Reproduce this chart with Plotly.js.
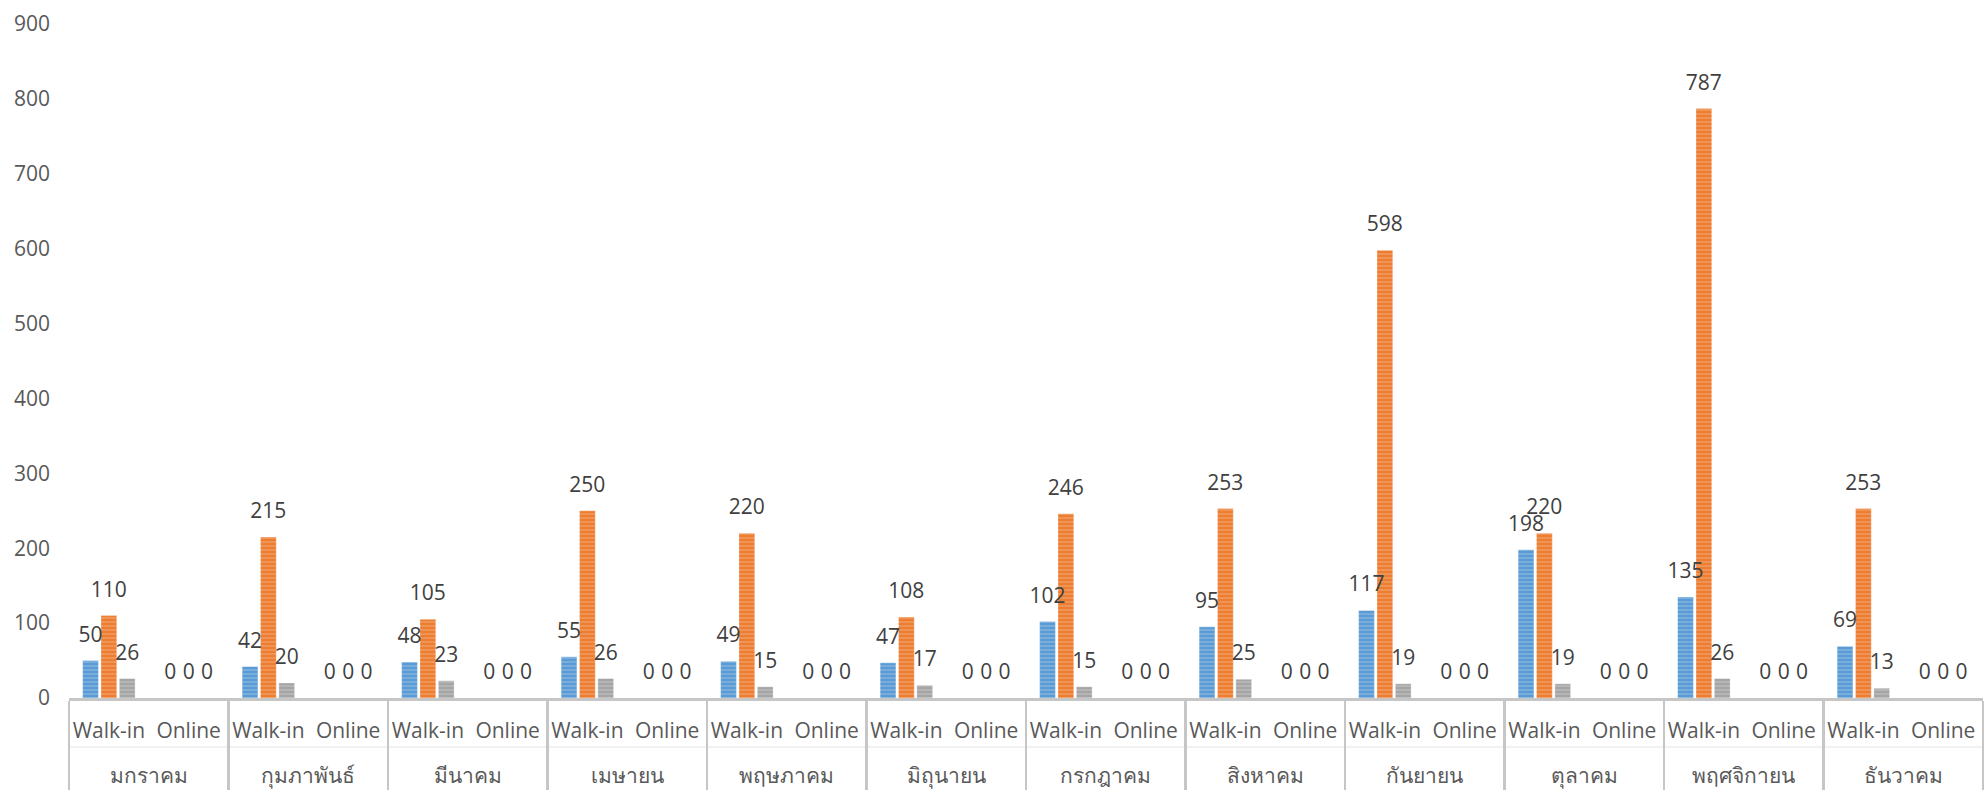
<!DOCTYPE html>
<html>
<head>
<meta charset="utf-8">
<script src="https://cdn.plot.ly/plotly-3.0.1.min.js"></script>
<style>html,body{margin:0;padding:0;background:#fff;}#chart{width:1986px;height:792px;}</style>
</head>
<body>
<div id="chart"></div>
<script>
const months = ["มกราคม","กุมภาพันธ์","มีนาคม","เมษายน","พฤษภาคม","มิถุนายน","กรกฎาคม","สิงหาคม","กันยายน","ตุลาคม","พฤศจิกายน","ธันวาคม"];
const channels = ["Walk-in","Online"];
// Walk-in values per month for the three series; Online values are all zero
const seriesBlueWalkin   = [50, 42, 48, 55, 49, 47, 102, 95, 117, 198, 135, 69];
const seriesOrangeWalkin = [110, 215, 105, 250, 220, 108, 246, 253, 598, 220, 787, 253];
const seriesGrayWalkin   = [26, 20, 23, 26, 15, 17, 15, 25, 19, 19, 26, 13];
const seriesBlueOnline   = [0,0,0,0,0,0,0,0,0,0,0,0];
const seriesOrangeOnline = [0,0,0,0,0,0,0,0,0,0,0,0];
const seriesGrayOnline   = [0,0,0,0,0,0,0,0,0,0,0,0];
const yTicks = [0,100,200,300,400,500,600,700,800,900];

// display helper: an extra blank line under the inner label widens the gap to the month row
const INNER_PAD = "<br>\u00a0";
const outer = [], inner = [];
months.forEach(m => channels.forEach(c => { outer.push(m); inner.push(c + INNER_PAD); }));
function interleave(w, o){ const r=[]; for(let i=0;i<w.length;i++){ r.push(w[i]); r.push(o[i]); } return r; }

const FONT = "Open Sans, Noto Sans, sans-serif";
const W = 1986, H = 792, M = {l:69, r:3, t:24, b:94};
const YMAX = 900;
const LABEL_LIFT_PX = 10;
const plotH = H - M.t - M.b;
const lift = LABEL_LIFT_PX * YMAX / plotH;

const colors = ['#5B9BD5', '#ED7D31', '#A5A5A5'];
const seriesVals = [
  interleave(seriesBlueWalkin, seriesBlueOnline),
  interleave(seriesOrangeWalkin, seriesOrangeOnline),
  interleave(seriesGrayWalkin, seriesGrayOnline)
];

function barTrace(vals, color){
  return {
    type:'bar', x:[outer, inner], y:vals, xaxis:'x', yaxis:'y',
    marker:{color:color, line:{color:'rgba(255,255,255,0.5)', width:0.6},
      pattern:{shape:'-', fillmode:'overlay', fgcolor:'rgba(255,255,255,0.5)', size:4, solidity:0.35}},
    hoverinfo:'skip', showlegend:false
  };
}
function labelTrace(vals){
  return {
    type:'bar', x:[outer, inner], y:vals, xaxis:'x2', yaxis:'y2',
    marker:{color:'rgba(0,0,0,0)'},
    text: vals.map(String), textposition:'outside', constraintext:'none', cliponaxis:false,
    textfont:{family:FONT, size:21, color:'#404040'},
    hoverinfo:'skip', showlegend:false
  };
}
const data = seriesVals.map((v,i)=>barTrace(v, colors[i])).concat(seriesVals.map(v=>labelTrace(v)));

const sepY = (H - M.b - 747) / plotH; // faint separator between the two label rows (paper units)
const layout = {
  width:W, height:H,
  margin:M,
  paper_bgcolor:'#fff', plot_bgcolor:'#fff',
  barmode:'group', bargap:0.31, bargroupgap:0.14,
  font:{family:FONT, color:'#595959'},
  xaxis:{type:'multicategory', showline:true, linecolor:'#C6C6C6', linewidth:2.5,
    showdividers:true, dividercolor:'#C6C6C6', dividerwidth:2.5, tickangle:0,
    tickfont:{family:FONT, size:21, color:'#595959'}, ticks:'', ticklabelstandoff:12,
    showgrid:false, zeroline:false},
  yaxis:{range:[0,YMAX], tickvals:yTicks, ticktext:yTicks.map(String), showgrid:false, zeroline:false,
    showline:false, ticks:'', ticklabelstandoff:18,
    tickfont:{family:FONT, size:21, color:'#595959'}},
  xaxis2:{type:'multicategory', overlaying:'x', visible:false, showgrid:false, zeroline:false},
  yaxis2:{overlaying:'y', range:[-lift, YMAX-lift], visible:false, showgrid:false, zeroline:false},
  shapes:[{type:'line', xref:'paper', yref:'paper', x0:0, x1:1, y0:sepY, y1:sepY,
    line:{color:'#E3E3E3', width:1}, layer:'below'}]
};
Plotly.newPlot('chart', data, layout, {staticPlot:true, displayModeBar:false});
</script>
</body>
</html>
